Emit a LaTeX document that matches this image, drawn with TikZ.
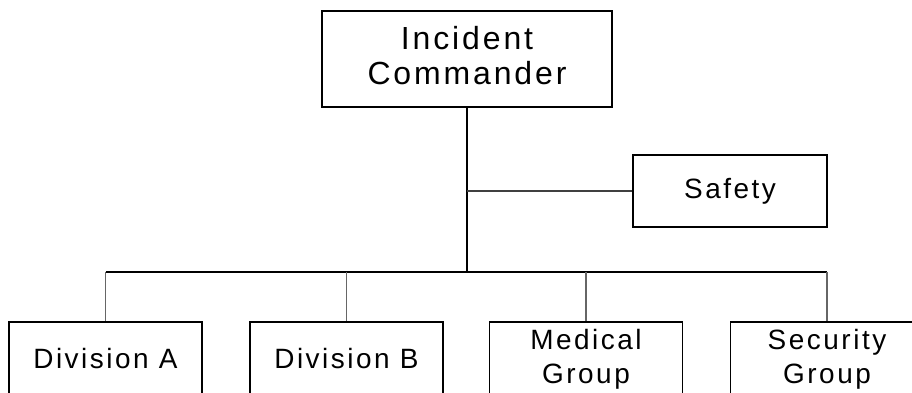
\documentclass[tikz,border=0pt]{standalone}
\usepackage{fontspec}
\setmainfont[LetterSpace=9]{Liberation Sans}
\usepackage{tikz}
\pgfdeclarelayer{bg}
\pgfsetlayers{bg,main}
\tikzset{
    every node/.style={rectangle, draw, line width=1.1pt, align=center, inner sep=0mm,
        font=\fontsize{15.9}{19.5}\selectfont},
    topbox/.style={minimum width=5.8cm, minimum height=1.92cm, font=\fontsize{18.2}{19.5}\selectfont},
    unitbox/.style={minimum width=3.86cm, minimum height=1.48cm},
    stem/.style={draw=black!60, line width=0.8pt}
}

\begin{document}
\begin{tikzpicture}
    \useasboundingbox (0cm, 0cm) rectangle (18.24cm, 7.84cm);

    \node (ic) [topbox] at (9.34cm, 6.66cm) {Incident\\Commander\rule[-4pt]{0pt}{0pt}};
    \node (safety) [minimum width=3.88cm, minimum height=1.44cm] at (14.60cm, 4.02cm) {Safety};

    \node (divA) [unitbox] at (2.11cm, 0.66cm) {Division A};
    \node (divB) [unitbox] at (6.93cm, 0.66cm) {Division B};
    \node (med) [unitbox] at (11.72cm, 0.66cm) {Medical\\Group};
    \node (sec) [unitbox] at (16.54cm, 0.66cm) {Security\\Group};

    \coordinate (bus) at (9.34cm, 2.40cm);

    \begin{pgfonlayer}{bg}
        \draw [line width=1.1pt] (ic) -- (bus);
        \draw [draw=black!75, line width=0.6pt] (safety.west) -- (safety.west -| ic);
        \draw [line width=0.6pt] (divA |- bus) -- (sec |- bus);

        \draw [stem] (divA.north) -- (divA |- bus);
        \draw [stem] (divB.north) -- (divB |- bus);
        \draw [stem] (med.north) -- (med |- bus);
        \draw [stem] (sec.north) -- (sec |- bus);
    \end{pgfonlayer}
\end{tikzpicture}
\end{document}
